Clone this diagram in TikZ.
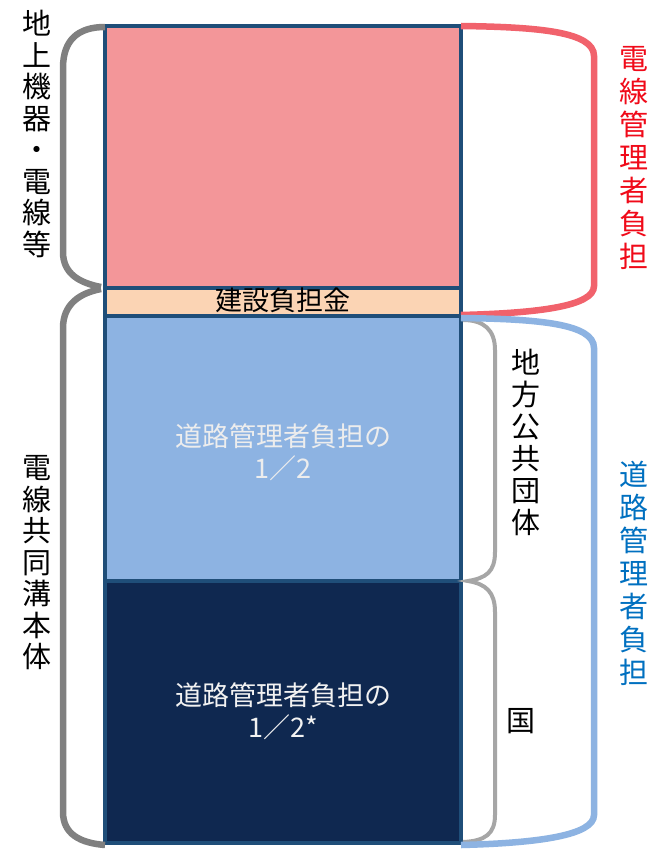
\documentclass[tikz,border=0pt]{standalone}
\usepackage{fontspec}
\newfontfamily\cjk{Noto Sans CJK JP}
\definecolor{boxline}{RGB}{31,78,121}
\definecolor{redfill}{RGB}{243,150,153}
\definecolor{orangefill}{RGB}{251,212,180}
\definecolor{lightbluefill}{RGB}{141,179,226}
\definecolor{navyfill}{RGB}{15,40,80}
\definecolor{redline}{RGB}{241,98,108}
\definecolor{blueline}{RGB}{141,179,226}
\definecolor{graydark}{RGB}{128,128,128}
\definecolor{graylight}{RGB}{166,166,166}
\definecolor{redtext}{RGB}{240,10,25}
\definecolor{bluetext}{RGB}{0,112,192}
\tikzset{
  box/.style={draw=boxline, line width=4pt, inner sep=0pt, outer sep=0pt},
  vlabel/.style={font=\cjk\fontsize{29}{31.5}\selectfont, align=center, inner sep=0pt},
  boxtext/.style={font=\cjk\fontsize{27}{32}\selectfont, align=center, inner sep=0pt},
  outerbrace/.style={draw=graydark, line width=6.5pt},
  innerbrace/.style={draw=graylight, line width=4pt},
  bracketred/.style={draw=redline, line width=6.5pt},
  bracketblue/.style={draw=blueline, line width=6.5pt}
}
\begin{document}
\begin{tikzpicture}[x=1pt,y=-1pt]
\useasboundingbox (0,0) rectangle (662,851);
\fill[white] (0,0) rectangle (662,851);
% boxes
\node[box, fill=redfill, minimum width=356pt, minimum height=262pt] (red) at (283,157) {};
\node[box, fill=lightbluefill, minimum width=356pt, minimum height=265pt] (lblue) at (283,448.5) {};
\node[box, fill=navyfill, minimum width=356pt, minimum height=262pt] (navy) at (283,712) {};
\node[box, fill=orangefill, minimum width=356pt, minimum height=28pt] (band) at (283,302) {};
\node[boxtext] (bandtext) at (283,300) {建設負担金};
\node[boxtext, text=white!93!black] (ltext) at (283,452) {道路管理者負担の\\1／2};
\node[boxtext, text=white!95!black] (ntext) at (283,711) {道路管理者負担の\\1／2*};
% left braces
\draw[outerbrace] (105,27) .. controls (78,27) and (63,40) .. (63,68) -- (63,252) .. controls (63,274) and (80,283) .. (101,287);
\draw[outerbrace] (101,289) .. controls (80,293) and (63,304) .. (63,328) -- (63,812) .. controls (63,834) and (80,843) .. (105,845);
% right inner braces
\draw[innerbrace] (463,320) .. controls (484,320) and (495,330) .. (495,350) -- (495,552) .. controls (495,572) and (486,578) .. (468,581) .. controls (486,584) and (495,592) .. (495,612) -- (495,815) .. controls (495,834) and (485,841) .. (463,842);
% right brackets
\draw[bracketred] (461,26) .. controls (540,27) and (594,32) .. (594,56) -- (594,286) .. controls (594,306) and (540,313) .. (461,315);
\draw[bracketblue] (461,318) .. controls (540,319) and (594,324) .. (594,348) -- (594,815) .. controls (594,835) and (540,843) .. (461,845);
% labels
\node[vlabel] (l1) at (37,134) {地\\上\\機\\器\\・\\電\\線\\等};
\node[vlabel] (l2) at (37,563) {電\\線\\共\\同\\溝\\本\\体};
\node[vlabel, text=redtext, font=\cjk\fontsize{29}{33}\selectfont] (r1) at (634,158) {電\\線\\管\\理\\者\\負\\担};
\node[vlabel, text=bluetext, font=\cjk\fontsize{29}{33}\selectfont] (r2) at (634,573) {道\\路\\管\\理\\者\\負\\担};
\node[vlabel, font=\cjk\fontsize{29}{32}\selectfont] (m1) at (526,442) {地\\方\\公\\共\\団\\体};
\node[vlabel] (m2) at (521,721) {国};
\end{tikzpicture}
\end{document}
